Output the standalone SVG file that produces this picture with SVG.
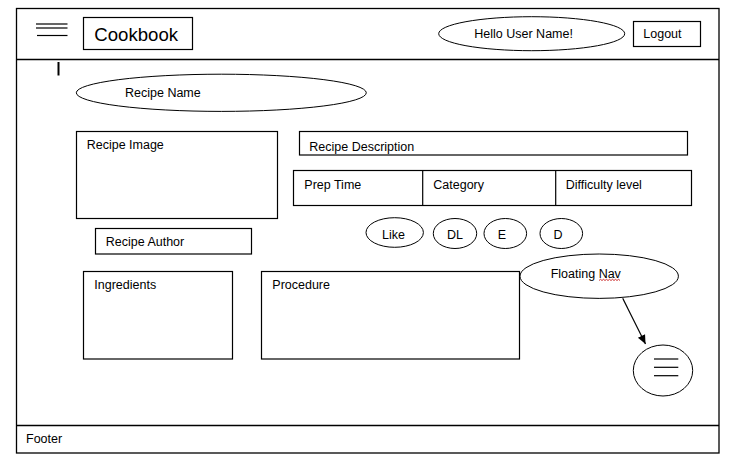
<svg xmlns="http://www.w3.org/2000/svg" width="733" height="466" viewBox="0 0 733 466">
<style>
.box{fill:#fff;stroke:#000;stroke-width:1.2}
.ell{fill:#fff;stroke:#000;stroke-width:1}
.t{font-family:"Liberation Sans",Arial,sans-serif;font-size:12.5px;fill:#000}
.ln{stroke:#000;stroke-width:1.2}
</style>
<defs>
<marker id="ah" markerWidth="10" markerHeight="10" refX="9" refY="5" orient="auto" markerUnits="userSpaceOnUse">
<path d="M0,1 L9,5 L0,9 Z" fill="#000"/>
</marker>
<clipPath id="descClip"><rect x="299" y="131" width="389" height="23.5"/></clipPath>
</defs>
<rect width="733" height="466" fill="#fff"/>
<g id="frame">
<rect x="16.5" y="8.5" width="702.5" height="444.5" fill="none" stroke="#000" stroke-width="1.3"/>
<line x1="16.5" y1="59.5" x2="719" y2="59.5" stroke="#000" stroke-width="1.3"/>
<line x1="16.5" y1="425.5" x2="719" y2="425.5" stroke="#000" stroke-width="1.3"/>
</g>
<g id="menu">
<line class="ln" x1="36" y1="24" x2="67.5" y2="24"/>
<line class="ln" x1="36" y1="28" x2="67.5" y2="28"/>
<line class="ln" x1="37" y1="35.5" x2="67.5" y2="35.5"/>
</g>
<g id="cookbook">
<rect class="box" x="83.5" y="17.5" width="109" height="32"/>
<text class="t" x="94.3" y="41" style="font-size:18.6px">Cookbook</text>
</g>
<g id="hello">
<ellipse class="ell" cx="531.7" cy="33.7" rx="93" ry="17"/>
<text class="t" x="474.3" y="38.3">Hello User Name!</text>
</g>
<g id="logout">
<rect class="box" x="633.5" y="21.5" width="67" height="25"/>
<text class="t" x="643.3" y="38.3">Logout</text>
</g>
<g id="cursor">
<line x1="58.5" y1="62" x2="58.5" y2="75.5" stroke="#000" stroke-width="2"/>
</g>
<g id="recipe-name">
<ellipse class="ell" cx="221.3" cy="92.8" rx="145" ry="18.6"/>
<text class="t" x="125" y="96.7">Recipe Name</text>
</g>
<g id="recipe-image">
<rect class="box" x="76.5" y="131.5" width="201" height="87"/>
<text class="t" x="86.7" y="148.5">Recipe Image</text>
</g>
<g id="recipe-author">
<rect class="box" x="95.5" y="228.5" width="156" height="25.5"/>
<text class="t" x="105.7" y="245.5">Recipe Author</text>
</g>
<g id="recipe-description">
<rect class="box" x="299.5" y="131.5" width="388" height="23.5"/>
<text class="t" x="309.3" y="150.5" clip-path="url(#descClip)">Recipe Description</text>
</g>
<g id="info-row">
<rect class="box" x="293.5" y="170.5" width="398" height="35"/>
<line class="ln" x1="422.7" y1="170.5" x2="422.7" y2="205.5"/>
<line class="ln" x1="555.7" y1="170.5" x2="555.7" y2="205.5"/>
<text class="t" x="304.3" y="188.5">Prep Time</text>
<text class="t" x="433.3" y="188.5">Category</text>
<text class="t" x="565.7" y="188.5">Difficulty level</text>
</g>
<g id="like">
<ellipse class="ell" cx="394.7" cy="232.5" rx="28.7" ry="14.8"/>
<text class="t" x="393.5" y="238.5" text-anchor="middle">Like</text>
</g>
<g id="dl">
<ellipse class="ell" cx="455" cy="233.5" rx="21.7" ry="15"/>
<text class="t" x="455" y="238.5" text-anchor="middle">DL</text>
</g>
<g id="e">
<ellipse class="ell" cx="505.3" cy="233.5" rx="21.3" ry="15"/>
<text class="t" x="502" y="238.5" text-anchor="middle">E</text>
</g>
<g id="d">
<ellipse class="ell" cx="561.3" cy="233.5" rx="21.3" ry="15"/>
<text class="t" x="558" y="238.5" text-anchor="middle">D</text>
</g>
<g id="ingredients">
<rect class="box" x="83.5" y="271.5" width="149" height="87.5"/>
<text class="t" x="94.3" y="288.5">Ingredients</text>
</g>
<g id="procedure">
<rect class="box" x="261.5" y="271.5" width="258" height="87.5"/>
<text class="t" x="272.3" y="288.5">Procedure</text>
</g>
<g id="floating-nav">
<ellipse class="ell" cx="599.2" cy="276.2" rx="79.2" ry="22.2"/>
<text class="t" x="550.7" y="277.5">Floating Nav</text>
<path d="M599,280.5 l1.5,-1.2 l1.5,1.2 l1.5,-1.2 l1.5,1.2 l1.5,-1.2 l1.5,1.2 l1.5,-1.2 l1.5,1.2 l1.5,-1.2 l1.5,1.2 l1.5,-1.2 l1.5,1.2 l1.5,-1.2 l1.5,1.2" fill="none" stroke="#c00000" stroke-width="0.8"/>
</g>
<g id="nav-button">
<ellipse class="ell" cx="663" cy="370.5" rx="29.7" ry="25.5"/>
<line class="ln" x1="654" y1="359" x2="678.3" y2="359"/>
<line class="ln" x1="654" y1="367.3" x2="678.3" y2="367.3"/>
<line class="ln" x1="654" y1="375.7" x2="678.3" y2="375.7"/>
</g>
<g id="connectors">
<line x1="622.7" y1="298.3" x2="645.5" y2="344" stroke="#000" stroke-width="1.2" marker-end="url(#ah)"/>
</g>
<g id="footer">
<text class="t" x="26" y="442.7">Footer</text>
</g>
</svg>
